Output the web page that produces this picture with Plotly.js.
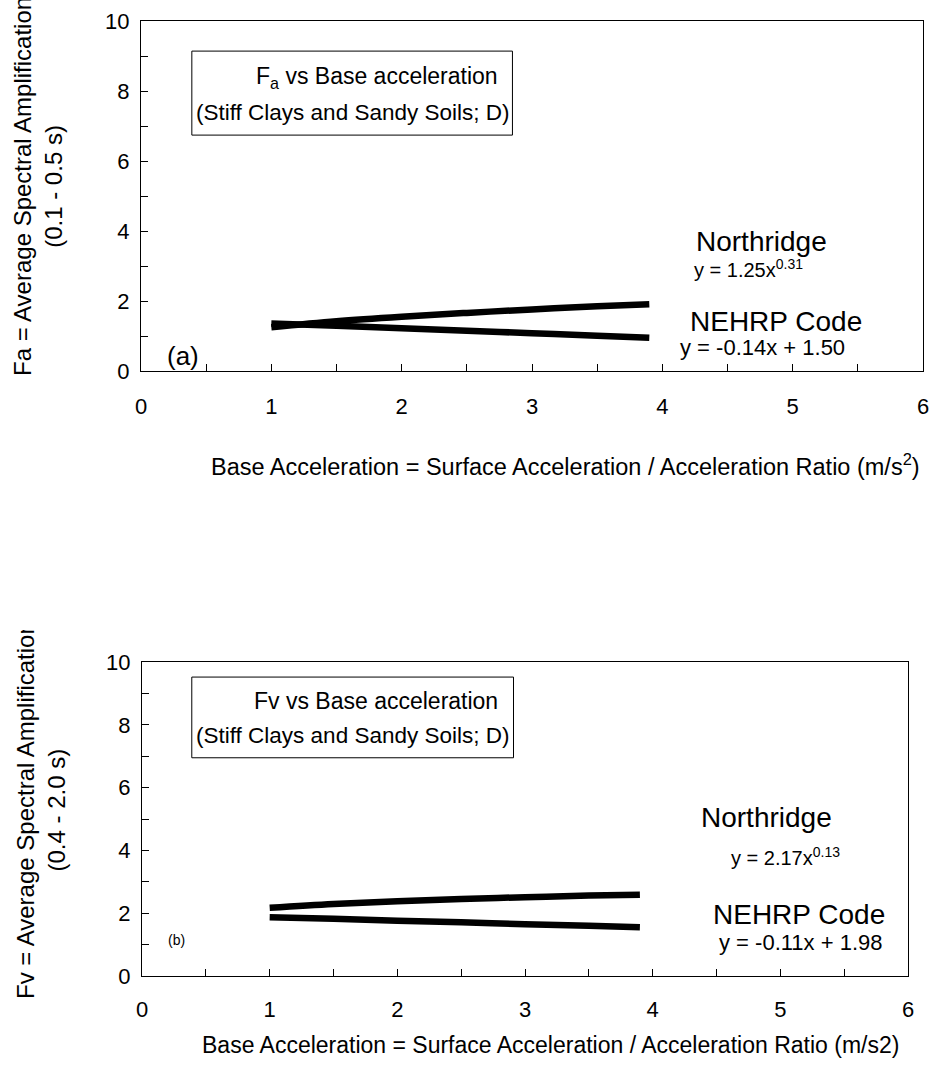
<!DOCTYPE html>
<html>
<head>
<meta charset="utf-8">
<script src="https://cdn.plot.ly/plotly-3.0.1.min.js"></script>
<style>
  html, body { margin: 0; padding: 0; background: #ffffff; }
  #chartA { width: 930px; height: 630px; }
  #chartB { width: 930px; height: 456px; }
</style>
</head>
<body>
<div id="chartA"></div>
<div id="chartB"></div>
<script>
// ---- data ----
const baseAccel = [1.0, 1.5, 2.0, 2.5, 3.0, 3.5, 3.9];
// (a) Fa, short period 0.1 - 0.5 s
const faNorthridge = [1.25, 1.42, 1.55, 1.66, 1.76, 1.85, 1.91];
const faNehrp      = [1.36, 1.29, 1.22, 1.15, 1.08, 1.01, 0.95];
// (b) Fv, long period 0.4 - 2.0 s
const fvNorthridge = [2.17, 2.29, 2.38, 2.45, 2.51, 2.56, 2.59];
const fvNehrp      = [1.87, 1.82, 1.76, 1.71, 1.65, 1.60, 1.55];

const xTickVals = [0, 1, 2, 3, 4, 5, 6];
const yTickVals = [0, 2, 4, 6, 8, 10];

const FONT = 'Liberation Sans, Arial, Helvetica, sans-serif';

function lineTrace(x, y) {
  return {
    x: x, y: y, type: 'scatter', mode: 'lines',
    line: { color: '#000000', width: 6.5, shape: 'spline' },
    hoverinfo: 'skip', showlegend: false
  };
}

function axes(xstand, ystand) {
  return {
    xaxis: {
      range: [0, 6], tickvals: xTickVals, ticktext: xTickVals.map(String),
      ticks: 'inside', ticklen: 7, tickwidth: 1, tickcolor: '#000',
      minor: { dtick: 0.5, ticks: 'inside', ticklen: 7, tickwidth: 1, tickcolor: '#000', showgrid: false },
      showline: true, linecolor: '#000', linewidth: 1, mirror: true,
      showgrid: false, zeroline: false, fixedrange: true,
      tickfont: { family: FONT, size: 22, color: '#000' },
      ticklabelstandoff: xstand
    },
    yaxis: {
      range: [0, 10], tickvals: yTickVals, ticktext: yTickVals.map(String),
      ticks: 'inside', ticklen: 7, tickwidth: 1, tickcolor: '#000',
      minor: { dtick: 1, ticks: 'inside', ticklen: 7, tickwidth: 1, tickcolor: '#000', showgrid: false },
      showline: true, linecolor: '#000', linewidth: 1, mirror: true,
      showgrid: false, zeroline: false, fixedrange: true,
      tickfont: { family: FONT, size: 22, color: '#000' },
      ticklabelstandoff: ystand
    }
  };
}

function ann(text, x, y, size, extra) {
  return Object.assign({
    text: text, x: x, y: y, xref: 'x', yref: 'y',
    showarrow: false, xanchor: 'center', yanchor: 'middle', borderpad: 0,
    font: { family: FONT, size: size, color: '#000' }
  }, extra || {});
}

// ---------- chart (a) ----------
const layoutA = Object.assign({
  width: 930, height: 630,
  margin: { l: 141, r: 7, t: 21, b: 259 },
  paper_bgcolor: '#fff', plot_bgcolor: '#fff',
  showlegend: false,
  shapes: [
    { type: 'rect', xref: 'x', yref: 'y', x0: 0.39, x1: 2.85, y0: 6.74, y1: 9.14,
      line: { color: '#000', width: 1 }, fillcolor: 'rgba(0,0,0,0)' }
  ],
  annotations: [
    ann('F<sub>a</sub> vs Base acceleration', 1.81, 8.40, 23),
    ann('(Stiff Clays and Sandy Soils; D)', 1.62, 7.40, 22.5),
    ann('Northridge', 4.76, 3.71, 28),
    ann('y = 1.25x<sup>0.31</sup>', 4.66, 2.92, 20),
    ann('NEHRP Code', 4.87, 1.42, 28),
    ann('y = -0.14x + 1.50', 4.77, 0.67, 22),
    ann('(a)', 0.32, 0.42, 26),
    { text: 'Base Acceleration = Surface Acceleration / Acceleration Ratio (m/s<sup>2</sup>)',
      xref: 'paper', yref: 'paper', x: (565 - 141) / 782, y: (371 - 465) / 350,
      showarrow: false, xanchor: 'center', yanchor: 'middle',
      font: { family: FONT, size: 23.5, color: '#000' } },
    { text: 'Fa = Average Spectral Amplification<br>(0.1 - 0.5 s)',
      xref: 'paper', yref: 'paper', x: (38 - 141) / 782, y: (371 - 187) / 350,
      showarrow: false, xanchor: 'center', yanchor: 'middle', textangle: -90, align: 'center',
      font: { family: FONT, size: 24, color: '#000' } }
  ]
}, axes(16, 6));

Plotly.newPlot('chartA', [lineTrace(baseAccel, faNorthridge), lineTrace(baseAccel, faNehrp)], layoutA,
  { staticPlot: true, displayModeBar: false });

// ---------- chart (b) ----------
const layoutB = Object.assign({
  width: 930, height: 456,
  margin: { l: 142, r: 22, t: 32, b: 110 },
  paper_bgcolor: '#fff', plot_bgcolor: '#fff',
  showlegend: false,
  shapes: [
    { type: 'rect', xref: 'x', yref: 'y', x0: 0.39, x1: 2.91, y0: 6.95, y1: 9.52,
      line: { color: '#000', width: 1 }, fillcolor: 'rgba(0,0,0,0)' }
  ],
  annotations: [
    ann('Fv vs Base acceleration', 1.83, 8.75, 23),
    ann('(Stiff Clays and Sandy Soils; D)', 1.65, 7.65, 22.5),
    ann('Northridge', 4.89, 5.06, 28),
    ann('y = 2.17x<sup>0.13</sup>', 5.04, 3.79, 20),
    ann('NEHRP Code', 5.15, 1.96, 28),
    ann('y = -0.11x + 1.98', 5.16, 1.06, 22),
    ann('(b)', 0.27, 1.15, 14),
    { text: 'Base Acceleration = Surface Acceleration / Acceleration Ratio (m/s2)',
      xref: 'paper', yref: 'paper', x: (550 - 142) / 766, y: (346 - 415) / 314,
      showarrow: false, xanchor: 'center', yanchor: 'middle',
      font: { family: FONT, size: 23, color: '#000' } },
    { text: 'Fv = Average Spectral Amplification<br>(0.4 - 2.0 s)',
      xref: 'paper', yref: 'paper', x: (41 - 142) / 766, y: (346 - 180) / 314,
      showarrow: false, xanchor: 'center', yanchor: 'middle', textangle: -90, align: 'center',
      font: { family: FONT, size: 24, color: '#000' } }
  ]
}, axes(14, 6));

Plotly.newPlot('chartB', [lineTrace(baseAccel, fvNorthridge), lineTrace(baseAccel, fvNehrp)], layoutB,
  { staticPlot: true, displayModeBar: false });
</script>
</body>
</html>
